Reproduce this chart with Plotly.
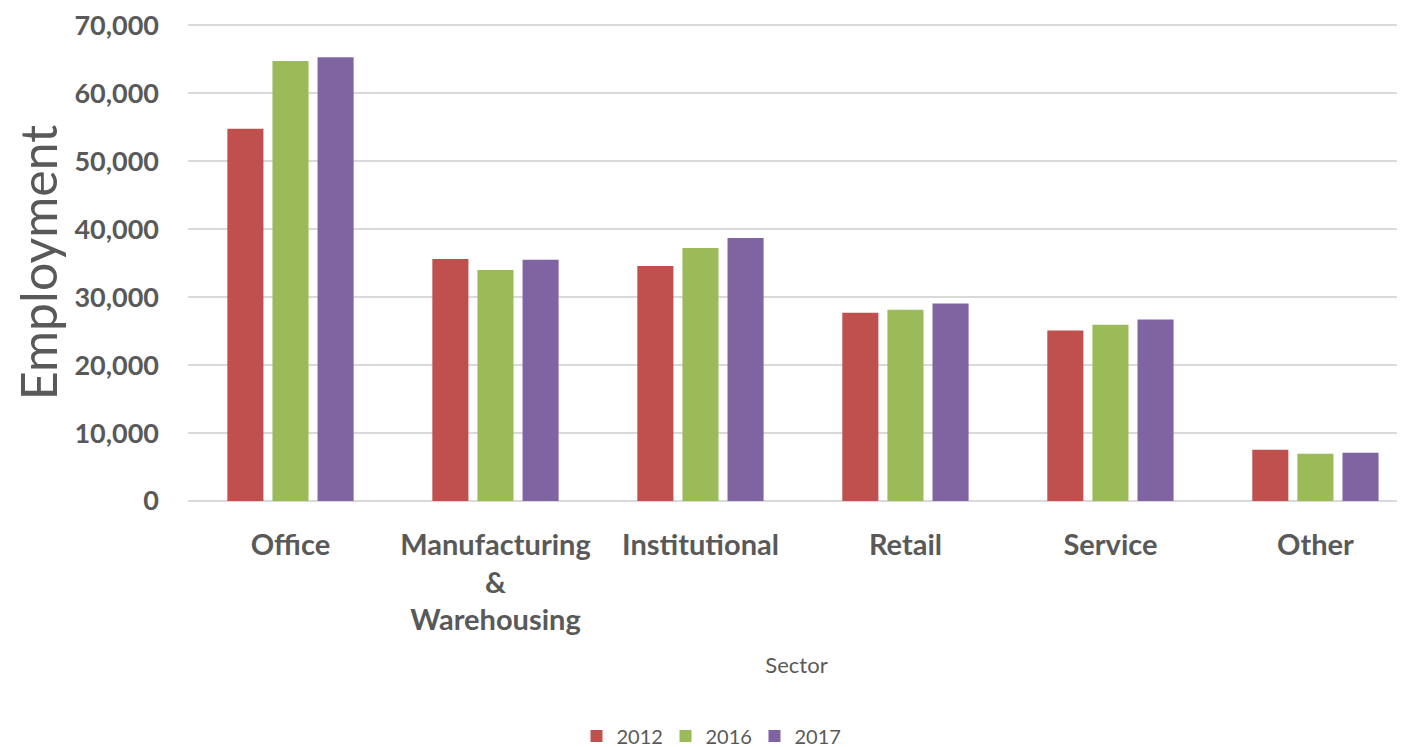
import plotly.graph_objects as go

sectors = ["Office", "Manufacturing<br>&<br>Warehousing", "Institutional", "Retail", "Service", "Other"]
years = ["2012", "2016", "2017"]
emp_2012 = [54800, 35600, 34600, 27700, 25100, 7550]
emp_2016 = [64750, 34000, 37250, 28150, 25950, 6950]
emp_2017 = [65300, 35500, 38700, 29050, 26700, 7100]
colors = ["#C0504D", "#9BBB59", "#8064A2"]
y_ticks = [0, 10000, 20000, 30000, 40000, 50000, 60000, 70000]

series = [emp_2012, emp_2016, emp_2017]

fig = go.Figure()
for name, vals, col in zip(years, series, colors):
    fig.add_trace(go.Bar(
        x=sectors, y=vals, name=name,
        marker=dict(color=col, line=dict(width=0)),
    ))

grey = "#595959"
fig.update_layout(
    width=1397, height=739,
    margin=dict(l=180, r=0, t=12.6, b=245.5, pad=0),
    paper_bgcolor="white", plot_bgcolor="white",
    barmode="group", bargap=0.34, bargroupgap=0.2,
    font=dict(family="Lato", color=grey),
    showlegend=True,
    legend=dict(
        orientation="h", xref="container", yref="container",
        x=0.5025, y=0.015, xanchor="center", yanchor="middle",
        font=dict(size=20, color=grey, family="Lato"),
        traceorder="normal", entrywidth=44,
    ),
    xaxis=dict(
        range=[-0.5, 5.437],
        showgrid=False, showline=False, zeroline=False,
        ticks="", ticklabelstandoff=24,
        tickfont=dict(size=29, color=grey, family="Lato", weight="bold"),
        title=dict(text="Sector", font=dict(size=22, color=grey, family="Lato"), standoff=22),
    ),
    yaxis=dict(
        range=[0, 70200],
        tickvals=y_ticks, tickformat=",d", ticklabeloverflow="allow",
        showgrid=True, gridcolor="#d9d9d9", gridwidth=2,
        zeroline=True, zerolinecolor="#d9d9d9", zerolinewidth=2,
        showline=False, ticks="", ticklabelstandoff=28,
        tickfont=dict(size=27, color=grey, family="Lato", weight="bold"),
        title=dict(text="Employment", font=dict(size=50, color=grey, family="Lato"), standoff=14),
    ),
)

fig.write_html("out.html")
